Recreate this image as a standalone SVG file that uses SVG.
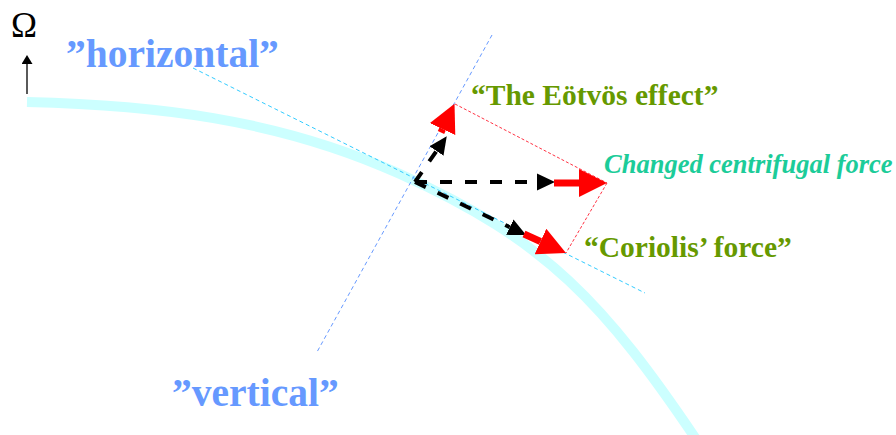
<svg xmlns="http://www.w3.org/2000/svg" width="896" height="435" viewBox="0 0 896 435">
<style>
.blk{stroke:#000;stroke-width:4;stroke-dasharray:12 13;fill:none}
.red{stroke:#ff0000;stroke-width:7;fill:none}
.dotred{stroke:#ff3344;stroke-width:1;stroke-dasharray:3 2;fill:none}
</style>
<defs>
<marker id="bh" markerUnits="userSpaceOnUse" markerWidth="18" markerHeight="18" refX="0" refY="8.5" orient="auto" viewBox="0 0 18 17">
<path d="M0,0 L18,8.5 L0,17 z" fill="#000"/>
</marker>
<marker id="rh" markerUnits="userSpaceOnUse" markerWidth="28" markerHeight="28" refX="0" refY="14" orient="auto" viewBox="0 0 28 28">
<path d="M0,0 L28,14 L0,28 z" fill="#ff0000"/>
</marker>
<marker id="oh" markerUnits="userSpaceOnUse" markerWidth="9" markerHeight="11" refX="0" refY="5.5" orient="auto" viewBox="0 0 9 11">
<path d="M0,0 L9,5.5 L0,11 z" fill="#000"/>
</marker>
</defs>
<rect width="896" height="435" fill="#fff"/>
<g id="earth">
<path d="M27,102 C151,105 276,118 400,174 C546,240 604,302 700,445" fill="none" stroke="#ccffff" stroke-width="10"/>
</g>
<g id="connectors">
<line x1="193" y1="68" x2="645" y2="293" stroke="#33ccff" stroke-width="1" stroke-dasharray="4 3"/>
<line x1="492" y1="35" x2="317" y2="352" stroke="#6699ff" stroke-width="1" stroke-dasharray="4 3"/>
<line x1="27" y1="94" x2="27" y2="64" stroke="#000" stroke-width="1.3" marker-end="url(#oh)"/>
<line class="dotred" x1="455" y1="104" x2="607" y2="183"/>
<line class="dotred" x1="607" y1="183" x2="566" y2="253"/>
<line class="blk" x1="415" y1="182" x2="537" y2="182" marker-end="url(#bh)"/>
<line class="blk" x1="415" y1="182" x2="509.8" y2="227.2" marker-end="url(#bh)"/>
<line class="blk" x1="415" y1="182" x2="436.5" y2="151" marker-end="url(#bh)"/>
<line class="red" x1="554" y1="183" x2="579" y2="183" marker-end="url(#rh)"/>
<line class="red" x1="524" y1="234" x2="540.5" y2="241.5" marker-end="url(#rh)"/>
<line class="red" x1="441" y1="132.5" x2="442.6" y2="129.1" marker-end="url(#rh)"/>
</g>
<g id="omega"><text x="24" y="37" text-anchor="middle" font-family="Liberation Serif, serif" font-size="35" fill="#000">Ω</text></g>
<g id="horizontal"><text x="66" y="67" font-family="Liberation Serif, serif" font-weight="bold" font-size="39.5" fill="#6699ff">”horizontal”</text></g>
<g id="vertical"><text x="172" y="406" font-family="Liberation Serif, serif" font-weight="bold" font-size="39.5" fill="#6699ff">”vertical”</text></g>
<g id="eotvos"><text x="471" y="105" font-family="Liberation Serif, serif" font-weight="bold" font-size="29.5" fill="#669900">“The Eötvös effect”</text></g>
<g id="centrifugal"><text x="604" y="173" font-family="Liberation Serif, serif" font-weight="bold" font-style="italic" font-size="26.5" fill="#1ccc99">Changed centrifugal force</text></g>
<g id="coriolis"><text x="584" y="257" font-family="Liberation Serif, serif" font-weight="bold" font-size="29.5" fill="#669900">“Coriolis’ force”</text></g>
</svg>
